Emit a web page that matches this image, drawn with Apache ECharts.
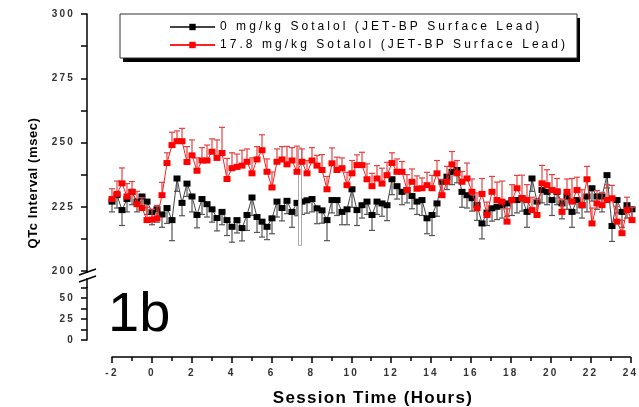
<!DOCTYPE html>
<html><head><meta charset="utf-8">
<script src="https://cdn.jsdelivr.net/npm/echarts@6/dist/echarts.min.js"></script>
<style>html,body{margin:0;padding:0;background:#fff}#c{width:639px;height:407px}</style>
</head><body><div id="c"></div>
<script>
// letter-spaced text as in the original (real text, only spacing adjusted)
(function(){
  const P = CanvasRenderingContext2D.prototype;
  const orig = P.fillText;
  P.fillText = function(t, x, y, m){
    const f = this.font || '';
    let ls = '0px';
    if (/\b10px/.test(f)) ls = '2.2px';
    else if (/\b12px/.test(f)) ls = '3.05px';
    else if (/\b17px/.test(f)) ls = '1.3px';
    else if (/\b13px/.test(f)) ls = '0.6px';
    if ('letterSpacing' in this) this.letterSpacing = ls;
    const r = m === undefined ? orig.call(this, t, x, y) : orig.call(this, t, x, y, m);
    if ('letterSpacing' in this) this.letterSpacing = '0px';
    return r;
  };
})();

const times = [
 -2,-1.75,-1.5,-1.25, -1,-0.75,-0.5,-0.25, 0,0.25,0.5,0.75, 1,1.25,1.5,1.75,
 2,2.25,2.5,2.75, 3,3.25,3.5,3.75, 4,4.25,4.5,4.75, 5,5.25,5.5,5.75,
 6,6.25,6.5,6.75, 7,7.25,7.5,7.75, 8,8.25,8.5,8.75, 9,9.25,9.5,9.75,
 10,10.25,10.5,10.75, 11,11.25,11.5,11.75, 12,12.25,12.5,12.75, 13,13.25,13.5,13.75,
 14,14.25,14.5,14.75, 15,15.25,15.5,15.75, 16,16.25,16.5,16.75, 17,17.25,17.5,17.75,
 18,18.25,18.5,18.75, 19,19.25,19.5,19.75, 20,20.25,20.5,20.75, 21,21.25,21.5,21.75,
 22,22.25,22.5,22.75, 23,23.25,23.5,23.75, 24];
const black0 = [
 227,229.5,223.7,228, 230.8,227,229,227, 223,224,222,224.5, 219.8,236,226.5,234,
 229,221.8,228,226, 224,220.6,223,219.8, 217.2,219.8,216.7,221.8, 228.6,221,219.2,217.2,
 220.5,227,224.5,227.3, 223,226.5,227,227.5, 228,224.4,223.6,219.8, 227.6,227.6,223,224,
 231.8,223.7,225.6,227, 221.8,227,226.3,225.6, 235.7,233,230.8,231.5, 229.2,227,227.6,220.5,
 221.8,226.3,234.7,236.7, 238.6,239.3,230.8,229.5, 228.3,225.7,218.5,222.7, 224.4,225,225.6,226.3,
 227.6,227.6,228.3,223, 236,227,231.5,230.8, 227.6,230.8,226.3,229, 223,227.6,225.6,229,
 232.2,229,229,237.3, 217.5,227.6,223,225.6, 224];
const blackErr = [
 4,5,6,5, 5,4,5,5, 5,5,5,6, 8,5,5,5,
 6,5,6,5, 5,5,5,6, 6,5,5,6, 7,6,6,5,
 6,6,5,5, 6,5,5,5, 5,6,5,8, 5,6,5,6,
 7,6,5,5, 6,5,5,6, 6,5,5,5, 5,5,6,6,
 8,5,5,5, 5,5,6,5, 5,6,6,5, 5,5,5,5,
 6,5,5,6, 5,6,5,5, 6,5,6,5, 6,5,5,6,
 5,5,6,5, 6,5,6,5, 5];
const red178 = [
 228,230,234.1,229, 230.8,226,224.5,219.8, 220,220.5,229.5,242, 249,250.5,250.5,242.4,
 245,239,243,243, 246.4,244,245.9,235.8, 240,240.5,241,242.5, 238,243.4,247,238.6,
 232.5,242.5,243.4,241.5, 243,238.6,242.5,238, 243,241,239.3,231.8, 241.9,239.3,240,233.4,
 238,241.2,241.2,235.7, 233,236,234,237.3, 242,238.6,238.6,231.5, 234.7,232,232.2,233.4,
 232.2,238,229.5,234.7, 241.5,238,234.7,236, 230.8,224.4,230,221.8, 230.8,227.6,227,219.2,
 227.6,232.2,228.3,227.6, 223.7,221.8,234.1,233.4, 231.5,231,223,230.8, 227,231.5,225.6,235.7,
 218.5,226.3,225.6,227.6, 228.3,219.2,214.7,223.7, 219.8];
const redErr = [
 4,5,6,5, 4,5,4,5, 4,5,5,4, 5,4,5,6,
 6,5,5,6, 5,7,10,8, 6,5,6,5, 6,5,6,5,
 6,5,5,7, 5,10,5,5, 5,4,6,5, 6,5,4,5,
 5,4,5,6, 5,5,6,5, 4,5,4,6, 5,5,4,5,
 5,5,6,6, 5,5,4,6, 5,6,6,5, 6,7,8,5,
 6,5,9,6, 5,6,7,6, 6,5,5,5, 9,5,6,5,
 6,5,5,6, 5,6,5,5, 5];
const artifact = [[7.4, 210, 248]];
const seriesNames = ['0 mg/kg Sotalol (JET-BP Surface Lead)', '17.8 mg/kg Sotalol (JET-BP Surface Lead)'];
const upperTicks = [200, 225, 250, 275, 300];
const lowerTicks = [0, 25, 50];
const xTicks = [-2,0,2,4,6,8,10,12,14,16,18,20,22,24];

const blackPts = times.map((t,i)=>[t, black0[i]]);
const redPts = times.map((t,i)=>[t, red178[i]]);
const blackEb = times.map((t,i)=>[t, black0[i], blackErr[i]]);
const redEb = times.map((t,i)=>[t, red178[i], redErr[i]]);

function ebRender(dir, color){
  return function(params, api){
    const x=api.value(0), y=api.value(1), e=api.value(2);
    const p0=api.coord([x,y]), p1=api.coord([x,y+dir*e]);
    const w=3;
    return {type:'group', children:[
      {type:'line', shape:{x1:p0[0],y1:p0[1],x2:p1[0],y2:p1[1]}, style:{stroke:color,lineWidth:1.2}},
      {type:'line', shape:{x1:p1[0]-w,y1:p1[1],x2:p1[0]+w,y2:p1[1]}, style:{stroke:color,lineWidth:1.2}}
    ]};
  };
}
const lblFont = {fontFamily:'Arial', fontSize:10, fontWeight:'bold', color:'#333'};
const axisLine = {show:true, onZero:false, lineStyle:{color:'#000', width:1.5}};
const chart = echarts.init(document.getElementById('c'), null, {renderer:'canvas'});
chart.setOption({
  animation:false,
  backgroundColor:'#fff',
  grid:[
    {left:112, right:7, top:14, height:257},
    {left:112, right:7, top:287.5, height:52.5}
  ],
  xAxis:[
    {gridIndex:0, type:'value', min:-2, max:24, interval:2, show:false},
    {gridIndex:1, type:'value', min:-2, max:24, interval:2, offset:17,
     axisLine:axisLine,
     axisTick:{length:6, lineStyle:{color:'#000', width:1.5}},
     minorTick:{show:true, splitNumber:2, length:4, lineStyle:{color:'#000', width:1.5}},
     splitLine:{show:false},
     axisLabel:Object.assign({margin:11, formatter:v=> xTicks.includes(v)? String(v):''}, lblFont)}
  ],
  yAxis:[
    {gridIndex:0, type:'value', min:200, max:300, interval:12.5, offset:25,
     axisLine:axisLine,
     axisTick:{show:true, length:6, lineStyle:{color:'#000', width:1.5}},
     splitLine:{show:false},
     axisLabel:Object.assign({margin:12, formatter:v=> upperTicks.includes(v)? String(v):''}, lblFont)},
    {gridIndex:1, type:'value', min:0, max:62.5, interval:12.5, offset:25,
     axisLine:axisLine,
     axisTick:{show:true, length:6, lineStyle:{color:'#000', width:1.5}},
     splitLine:{show:false},
     axisLabel:Object.assign({margin:12, formatter:v=> lowerTicks.includes(v)? String(v):''}, lblFont)}
  ],
  legend:{
    orient:'vertical', left:169, top:20, padding:0, itemGap:4, itemWidth:45, itemHeight:8, z:20,
    data:seriesNames,
    textStyle:{fontFamily:'Arial', fontSize:12, color:'#000', lineHeight:14}
  },
  series:[
    {type:'custom', name:'eb0', xAxisIndex:0, yAxisIndex:0, data:blackEb, renderItem:ebRender(-1,'#555'), z:2, encode:{x:0,y:1}},
    {type:'line', name:seriesNames[0], xAxisIndex:0, yAxisIndex:0, data:blackPts, symbol:'rect', symbolSize:[7,6],
     itemStyle:{color:'#000'}, lineStyle:{color:'#444', width:1}, z:3},
    {type:'custom', name:'art', xAxisIndex:0, yAxisIndex:0, data:artifact, z:4, encode:{x:0,y:[1,2]},
     renderItem:function(params, api){
       const a=api.coord([api.value(0), api.value(1)]), b=api.coord([api.value(0), api.value(2)]);
       return {type:'rect', shape:{x:a[0]-1.5, y:b[1], width:3, height:a[1]-b[1]}, style:{fill:'#fff', stroke:'#aaa', lineWidth:1}};
     }},
    {type:'custom', name:'eb1', xAxisIndex:0, yAxisIndex:0, data:redEb, renderItem:ebRender(1,'#e64040'), z:5, encode:{x:0,y:1}},
    {type:'line', name:seriesNames[1], xAxisIndex:0, yAxisIndex:0, data:redPts, symbol:'rect', symbolSize:[7,6],
     itemStyle:{color:'#ff0000'}, lineStyle:{color:'#ff2020', width:1}, z:6}
  ],
  graphic:[
    {type:'rect', z:1, shape:{x:123, y:18, width:457, height:44}, style:{fill:'#000'}},
    {type:'rect', z:2, shape:{x:120, y:14, width:457, height:44}, style:{fill:'#fff', stroke:'#333', lineWidth:1}},
    {type:'line', shape:{x1:87, y1:271, x2:87, y2:273}, style:{stroke:'#000', lineWidth:1.5}},
    {type:'line', shape:{x1:87, y1:278, x2:87, y2:288}, style:{stroke:'#000', lineWidth:1.5}},
    {type:'line', shape:{x1:79, y1:275, x2:96, y2:269}, style:{stroke:'#000', lineWidth:1.5}},
    {type:'line', shape:{x1:79, y1:282, x2:96, y2:276}, style:{stroke:'#000', lineWidth:1.5}},
    {type:'text', x:108, y:316, style:{text:'1b', font:'56px Arial', fill:'#000', verticalAlign:'middle', align:'left'}},
    {type:'text', x:33, y:183, rotation:Math.PI/2, style:{text:'QTc Interval (msec)', font:'bold 13px Arial', fill:'#000', align:'center', verticalAlign:'middle'}},
    {type:'text', x:373, y:398, style:{text:'Session Time (Hours)', font:'bold 17px Arial', fill:'#000', align:'center', verticalAlign:'middle'}}
  ]
});
</script></body></html>
